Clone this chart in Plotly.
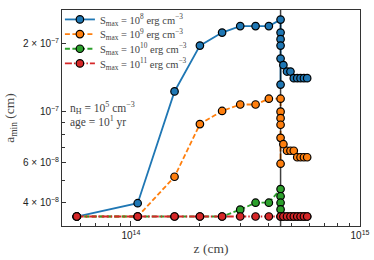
import plotly.graph_objects as go

# ---- data ----
x_main = [5.8e13, 1.07e14, 1.55e14, 2.0e14, 2.5e14, 3.0e14, 3.5e14, 4.0e14, 4.5e14]
x_tail = [4.63e14, 4.80e14, 4.97e14, 5.14e14, 5.32e14, 5.50e14, 5.69e14, 5.88e14]

blue_x = x_main + [4.5e14, 4.5e14, 4.5e14, 4.5e14, 4.5e14] + x_tail
blue_y = [3.48e-8, 3.98e-8, 1.23e-7, 1.954e-7, 2.229e-7, 2.38e-7, 2.38e-7, 2.38e-7, 2.54e-7,
          1.318e-7, 2.229e-7, 2.085e-7, 1.954e-7, 1.714e-7,
          1.606e-7, 1.504e-7, 1.504e-7, 1.407e-7, 1.407e-7, 1.407e-7, 1.407e-7, 1.407e-7]

orange_x = x_main + [4.5e14, 4.5e14, 4.5e14, 4.5e14, 4.5e14] + x_tail
orange_y = [3.48e-8, 3.48e-8, 5.2e-8, 8.85e-8, 1.01e-7, 1.078e-7, 1.078e-7, 1.143e-7, 1.143e-7,
            5.93e-8, 1.003e-7, 9.39e-8, 8.79e-8, 7.7e-8,
            7.22e-8, 6.76e-8, 6.76e-8, 6.76e-8, 6.33e-8, 6.33e-8, 6.33e-8, 6.33e-8]

green_x = x_main + [4.5e14, 4.5e14, 4.5e14, 4.5e14] + x_tail
green_y = [3.48e-8, 3.48e-8, 3.48e-8, 3.48e-8, 3.48e-8, 3.73e-8, 4.0e-8, 4.0e-8, 4.59e-8,
           4.27e-8, 4.0e-8, 3.74e-8, 3.48e-8,
           3.48e-8, 3.48e-8, 3.48e-8, 3.48e-8, 3.48e-8, 3.48e-8, 3.48e-8, 3.48e-8]

red_x = x_main + x_tail
red_y = [3.48e-8] * len(red_x)

labels = ["S<sub>max</sub> = 10<sup>8</sup> erg cm<sup>−3</sup>",
          "S<sub>max</sub> = 10<sup>9</sup> erg cm<sup>−3</sup>",
          "S<sub>max</sub> = 10<sup>10</sup> erg cm<sup>−3</sup>",
          "S<sub>max</sub> = 10<sup>11</sup> erg cm<sup>−3</sup>"]
colors = ["#1f77b4", "#ff7f0e", "#2ca02c", "#d62728"]
dashes = ["solid", "5px,2.5px", "5px,2.5px", "7px,2px,1.5px,2px"]

vline_x = [4.5e14, 4.5e14]
vline_y = [3.0e-8, 3.0e-7]

ytick_vals = [4e-8, 6e-8, 1e-7, 2e-7]
ytick_text = ["4 × 10<sup>−8</sup>", "6 × 10<sup>−8</sup>", "10<sup>−7</sup>", "2 × 10<sup>−7</sup>"]
ymin_vals = [5e-8, 7e-8, 8e-8, 9e-8, 3e-7]
xtick_vals = [1e14, 1e15]
xtick_text = ["10<sup>14</sup>", "10<sup>15</sup>"]
xmin_vals = [6e13, 7e13, 8e13, 9e13, 2e14, 3e14, 4e14, 5e14, 6e14, 7e14, 8e14, 9e14]

series = [(blue_x, blue_y), (orange_x, orange_y), (green_x, green_y), (red_x, red_y)]

serif = "Liberation Serif"
sans = "Liberation Sans"

fig = go.Figure()
# lines first
for (xs, ys), c, d in zip(series, colors, dashes):
    fig.add_trace(go.Scatter(x=xs, y=ys, mode="lines", line=dict(color=c, width=1.8, dash=d),
                             showlegend=False, hoverinfo="skip"))
# vertical dark line
fig.add_trace(go.Scatter(x=vline_x, y=vline_y, mode="lines",
                         line=dict(color="rgba(0,0,0,0.75)", width=1.5), showlegend=False))
# markers
for (xs, ys), c in zip(series, colors):
    fig.add_trace(go.Scatter(x=xs, y=ys, mode="markers",
                             marker=dict(color=c, size=7.5, line=dict(color="black", width=1.2)),
                             showlegend=False))
# legend entries, one small legend per row for tighter spacing
legend_names = ["legend", "legend2", "legend3", "legend4"]
legend_ys = [1.0235, 0.9557, 0.8878, 0.8199]
for lab, c, d, lg in zip(labels, colors, dashes, legend_names):
    fig.add_trace(go.Scatter(x=[None], y=[None], mode="lines+markers", name=lab, legend=lg,
                             line=dict(color=c, width=1.8, dash=d),
                             marker=dict(color=c, size=7.5, line=dict(color="black", width=1.2))))

fig.add_annotation(x=0.02, y=0.545, xref="paper", yref="paper", xanchor="left", yanchor="middle",
                   text="n<sub>H</sub> = 10<sup>5</sup> cm<sup>−3</sup>", showarrow=False,
                   font=dict(family=serif, size=11.5, color="#444"))
fig.add_annotation(x=0.02, y=0.484, xref="paper", yref="paper", xanchor="left", yanchor="middle",
                   text="age = 10<sup>1</sup> yr", showarrow=False,
                   font=dict(family=serif, size=11.5, color="#444"))

legend_common = dict(x=-0.007, xanchor="left", yanchor="top", bgcolor="rgba(0,0,0,0)",
                     font=dict(family=serif, size=10.5, color="#444"), itemwidth=30)
fig.update_layout(
    width=374, height=260,
    margin=dict(l=62, r=14, t=5, b=34),
    paper_bgcolor="white", plot_bgcolor="white",
    showlegend=True,
    legend=dict(y=legend_ys[0], **legend_common),
    legend2=dict(y=legend_ys[1], **legend_common),
    legend3=dict(y=legend_ys[2], **legend_common),
    legend4=dict(y=legend_ys[3], **legend_common),
)
fig.update_xaxes(type="log", range=[13.699, 15.0],
                 showline=True, linecolor="#333", linewidth=1, mirror=True,
                 showgrid=False, zeroline=False,
                 tickmode="array", tickvals=xtick_vals, ticktext=xtick_text,
                 ticks="inside", ticklen=5, tickcolor="#333",
                 tickfont=dict(family=sans, size=10, color="#222"),
                 minor=dict(tickmode="array", tickvals=xmin_vals, ticks="inside", ticklen=3, tickcolor="#333"),
                 title=dict(text="z (cm)", font=dict(family=serif, size=13.5, color="#444"), standoff=3))
fig.update_yaxes(type="log", range=[-7.5, -6.553],
                 showline=True, linecolor="#333", linewidth=1, mirror=True,
                 showgrid=False, zeroline=False,
                 tickmode="array", tickvals=ytick_vals, ticktext=ytick_text,
                 ticks="inside", ticklen=4, tickcolor="#333",
                 tickfont=dict(family=sans, size=10, color="#222"),
                 minor=dict(tickmode="array", tickvals=ymin_vals, ticks="inside", ticklen=3, tickcolor="#333"),
                 title=dict(text="a<sub>min</sub> (cm)", font=dict(family=serif, size=13.5, color="#444"), standoff=5))

fig.write_html("out.html", config={"displayModeBar": False},
               post_script="document.body.style.margin='0';")
